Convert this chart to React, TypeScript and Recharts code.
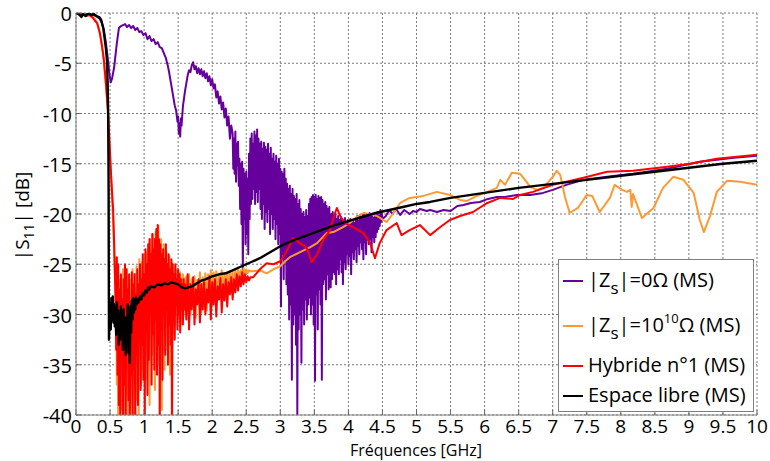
import React from 'react';
import { LineChart, Line, XAxis, YAxis, CartesianGrid, Legend } from 'recharts';

type Pt = [number, number];

const FONT = '"Open Sans", sans-serif';
const PURPLE = '#66009c';
const ORANGE = '#ff9933';
const RED = '#ff0000';
const BLACK = '#000000';

const xTicks = [0, 0.5, 1, 1.5, 2, 2.5, 3, 3.5, 4, 4.5, 5, 5.5, 6, 6.5, 7, 7.5, 8, 8.5, 9, 9.5, 10];
const yTicks = [-40, -35, -30, -25, -20, -15, -10, -5, 0];

// ---------- |Zs|=0 Ohm (MS) : purple ----------
const purpleHead: Pt[] = [
  [0, 0], [0.05, -0.1], [0.1, -0.2], [0.2, -0.1], [0.3, -0.3], [0.35, -0.6], [0.38, -1.0], [0.41, -1.7],
  [0.44, -3.0], [0.47, -4.7], [0.49, -6.0], [0.51, -6.9], [0.53, -6.5], [0.56, -5.4], [0.6, -3.0], [0.63, -1.5],
  [0.66, -1.3], [0.69, -1.2], [0.72, -1.1], [0.75, -1.4], [0.78, -1.2], [0.81, -1.5], [0.84, -1.3], [0.87, -1.7],
  [0.9, -1.5], [0.93, -1.9], [0.96, -1.8], [0.99, -2.2], [1.02, -2.0], [1.05, -2.6], [1.08, -2.3], [1.11, -2.8],
  [1.14, -2.6], [1.17, -3.1], [1.2, -2.9], [1.23, -3.4], [1.26, -3.5], [1.29, -4.0], [1.32, -4.5], [1.35, -5.3],
  [1.37, -6.0], [1.4, -7.2], [1.42, -8.0], [1.45, -9.2], [1.47, -9.7], [1.49, -10.8], [1.5, -10.3], [1.51, -12.0],
  [1.52, -11.0], [1.53, -12.3], [1.54, -10.5], [1.55, -11.2], [1.57, -9.3], [1.6, -7.8], [1.62, -7.0], [1.64, -6.2],
  [1.66, -5.7], [1.68, -5.9], [1.7, -5.2], [1.72, -4.9], [1.74, -5.6], [1.76, -5.3], [1.78, -6.0], [1.8, -5.5],
  [1.82, -6.1], [1.84, -5.6], [1.86, -6.3], [1.88, -5.8], [1.9, -6.5], [1.92, -6.0], [1.94, -6.8], [1.96, -6.3],
  [1.98, -7.2], [2.0, -6.6], [2.02, -7.5], [2.04, -7.1], [2.06, -8.4], [2.08, -7.8], [2.1, -9.0], [2.12, -8.3],
  [2.14, -9.6], [2.16, -8.9], [2.18, -10.4], [2.2, -9.5], [2.22, -11.2], [2.24, -10.3], [2.26, -12.5], [2.28, -11.2],
];
const purpleNoiseStart = 2.3;
const purpleNoiseStep = 0.01;
const purpleNoise = [
  -12.0, -15.5, -12.5, -16.0, -11.8, -16.8, -13.0, -15.2, -12.8, -17.2,
  -14.5, -19.5, -15.0, -21.0, -14.8, -25.8, -15.5, -20.5, -16.0, -23.0,
  -15.8, -22.0, -16.5, -24.0, -14.0, -20.5, -12.5, -19.0, -12.0, -18.5,
  -13.0, -17.5, -11.8, -19.0, -12.2, -17.8, -11.6, -18.8, -12.5, -17.5,
  -13.0, -19.5, -12.8, -20.5, -13.5, -19.0, -12.9, -21.5, -13.3, -19.8,
  -13.6, -20.8, -13.0, -19.5, -14.0, -22.0, -13.4, -20.0, -14.5, -21.5,
  -14.0, -20.5, -14.8, -22.5, -14.2, -21.0, -15.0, -23.0, -14.5, -22.0,
  -15.5, -29.2, -15.8, -24.0, -16.0, -26.5, -15.5, -24.5, -16.5, -27.0,
  -17.0, -28.0, -17.5, -30.5, -17.2, -29.0, -18.0, -36.5, -17.5, -31.0,
  -18.2, -30.0, -18.5, -33.0, -18.0, -40.0, -19.0, -31.5, -18.6, -30.0,
  -19.5, -34.8, -20.0, -29.5, -19.8, -31.0, -20.3, -28.5, -19.6, -30.5,
  -20.2, -29.0, -19.0, -28.3, -18.5, -30.0, -18.3, -29.0, -18.1, -31.0,
  -18.3, -36.6, -18.1, -28.0, -18.5, -31.5, -18.2, -27.5, -18.4, -29.0,
  -18.3, -36.5, -18.6, -27.0, -19.0, -26.5, -18.8, -28.5, -19.2, -26.0,
  -19.5, -27.5, -19.3, -25.5, -27.3, -20.0, -26.5, -19.8, -25.8, -20.2,
  -26.0, -20.0, -27.0, -20.5, -25.5, -20.2, -26.0, -20.6, -24.5, -20.3,
  -25.8, -20.5, -27.0, -20.8, -24.8, -20.4, -25.5, -21.0, -24.0, -20.6,
  -25.0, -20.8, -24.2, -20.5, -26.0, -21.0, -23.8, -20.6, -24.5, -20.9,
  -23.5, -20.5, -24.8, -20.2, -23.2, -20.7, -24.0, -20.1, -22.8, -20.5,
  -23.5, -20.0, -24.5, -19.9, -22.8, -20.3, -24.0, -20.0, -22.5, -20.2,
  -23.0, -19.9, -22.5, -20.2, -23.8, -20.0, -22.3, -20.4, -22.8, -19.9,
  -22.3, -20.0, -21.8, -19.8, -21.5, -20.2, -21.2, -19.6, -20.8, -19.9,
  -20.5,
];
const purpleTail: Pt[] = [
  [4.55, -20.2], [4.6, -19.6], [4.65, -20.0], [4.7, -19.5], [4.76, -20.1], [4.82, -19.6], [4.9, -20.0], [4.95, -19.7],
  [5.0, -19.8], [5.05, -19.5], [5.15, -19.7], [5.2, -19.6], [5.3, -19.8], [5.4, -19.6], [5.5, -19.7], [5.6, -19.2],
  [5.69, -19.1], [5.8, -18.9], [5.93, -18.8], [6.05, -18.5], [6.18, -18.3], [6.3, -18.3], [6.47, -18.1], [6.67, -18.1],
  [6.86, -17.9], [7.0, -17.6], [7.2, -17.1], [7.45, -16.6], [7.8, -16.3], [8.18, -16.0], [8.68, -15.5], [9.16, -14.8],
  [9.66, -14.4], [10, -14.2],
];

// ---------- |Zs|=1e10 Ohm (MS) : orange ----------
const orangeHead: Pt[] = [
  [0, 0], [0.1, -0.2], [0.2, -0.2], [0.28, -0.6], [0.32, -1.2], [0.36, -2.3], [0.4, -4.2], [0.44, -7.3],
  [0.47, -10.0], [0.5, -14.2], [0.53, -18.6], [0.55, -21.5], [0.57, -26.0],
];
const orangeNoiseAStart = 0.58;
const orangeNoiseAStep = 0.01;
const orangeNoiseA = [
  -29.0, -25.5, -37.0, -26.0, -41.0, -27.0, -34.0, -26.5, -39.5, -27.5,
  -32.0, -25.5, -40.5, -28.0, -35.0, -26.0, -38.0, -25.5, -42.0, -27.0,
  -33.5, -26.5, -39.0, -28.5, -34.5, -25.5, -40.0, -27.5, -33.0, -26.0,
  -38.5, -25.2, -35.0, -27.0, -41.0, -24.5, -34.0, -26.0, -37.0, -24.8,
  -35.5, -26.5, -33.0, -24.0, -36.5, -23.8, -32.0, -25.0, -35.0, -23.0,
  -39.0, -22.5, -31.5, -23.8, -34.0, -22.0, -30.5, -23.0, -37.5, -21.8,
  -32.0, -22.8, -35.0, -21.2, -30.0, -23.5, -34.5, -22.5, -39.5, -24.0,
  -31.5, -23.0, -35.5, -24.5, -30.5, -23.8, -33.5, -25.0, -29.5, -24.2,
  -36.0, -25.5, -30.8, -24.8, -32.0, -25.8, -29.8, -25.2, -31.0, -26.0,
  -29.0, -25.5, -30.5, -26.2, -29.2, -25.8, -31.0, -26.5, -28.8, -26.0,
  -30.2, -26.4, -28.6,
];
const orangeNoiseBStart = 1.62;
const orangeNoiseBStep = 0.02;
const orangeNoiseB = [
  -26.2, -29.5, -26.0, -30.0, -26.5, -28.8, -26.2, -30.3, -26.6, -28.5,
  -25.8, -29.8, -26.3, -28.2, -25.9, -29.6, -26.0, -28.0, -25.6, -29.2,
  -25.8, -28.0, -25.7, -28.5, -26.0, -27.6, -25.6, -28.2, -25.9, -27.4,
  -25.8, -27.5, -25.7, -27.0, -25.8, -26.8, -25.6, -26.7, -25.5, -26.5,
  -25.6, -26.3, -25.4, -26.0, -25.5, -25.9, -25.6, -25.7,
];
const orangeTail: Pt[] = [
  [2.6, -25.7], [2.7, -25.6], [2.8, -25.9], [2.9, -25.5], [3.0, -25.2], [3.07, -24.7], [3.14, -24.3], [3.29, -23.8],
  [3.44, -23.3], [3.54, -22.9], [3.68, -21.9], [3.78, -21.8], [3.92, -21.3], [4.02, -20.9], [4.12, -20.3], [4.22, -19.9],
  [4.32, -20.0], [4.42, -20.2], [4.56, -20.8], [4.66, -19.9], [4.76, -18.9], [4.9, -18.4], [5.1, -18.2], [5.3, -17.8],
  [5.49, -18.1], [5.64, -18.6], [5.74, -18.7], [5.89, -18.2], [6.04, -17.8], [6.18, -17.4], [6.23, -16.6], [6.3, -17.1],
  [6.4, -15.9], [6.52, -16.0], [6.57, -16.4], [6.67, -17.3], [6.77, -17.6], [6.86, -17.4], [7.0, -16.3], [7.06, -15.7],
  [7.11, -16.1], [7.18, -18.3], [7.25, -19.9], [7.37, -19.4], [7.5, -18.1], [7.58, -18.2], [7.69, -19.8], [7.84, -18.4],
  [7.91, -17.1], [8.02, -17.6], [8.09, -17.8], [8.14, -17.6], [8.16, -19.3], [8.18, -18.0], [8.2, -18.4], [8.31, -20.4],
  [8.48, -19.4], [8.62, -17.4], [8.77, -16.3], [8.92, -16.6], [9.07, -17.9], [9.16, -20.6], [9.22, -21.8], [9.31, -20.2],
  [9.41, -17.8], [9.56, -16.7], [9.75, -16.8], [10, -17.1],
];

// ---------- Hybride n°1 (MS) : red ----------
const redHead: Pt[] = [
  [0, 0], [0.05, -0.2], [0.1, -0.1], [0.15, -0.3], [0.2, -0.2], [0.25, -0.5], [0.28, -0.8], [0.31, -1.0],
  [0.35, -2.0], [0.38, -3.2], [0.41, -4.7], [0.44, -7.0], [0.47, -9.7], [0.49, -12.5], [0.51, -15.5], [0.53, -17.9],
  [0.545, -19.5], [0.56, -22.9], [0.57, -25.5],
];
const redNoiseAStart = 0.58;
const redNoiseAStep = 0.01;
const redNoiseA = [
  -28.0, -33.5, -24.3, -36.0, -25.0, -39.0, -27.5, -42.0, -26.0, -34.0,
  -28.5, -41.0, -26.5, -37.0, -25.0, -42.0, -25.5, -33.0, -27.5, -38.5,
  -26.0, -42.0, -29.0, -36.0, -25.8, -41.0, -27.0, -35.5, -26.0, -42.0,
  -28.0, -34.0, -25.5, -39.0, -27.0, -32.5, -25.0, -37.5, -26.5, -33.0,
  -24.0, -36.5, -26.0, -41.0, -23.5, -31.0, -25.0, -38.0, -23.0, -34.5,
  -22.5, -30.0, -24.0, -37.0, -22.0, -32.0, -23.5, -35.5, -22.5, -30.5,
  -21.5, -36.0, -21.1, -33.0, -22.5, -42.0, -23.0, -31.5, -24.0, -36.5,
  -23.5, -30.0, -24.5, -34.0, -23.0, -29.5, -25.0, -35.0, -24.0, -31.0,
  -25.5, -33.0, -24.5, -42.0, -25.0, -30.5, -26.0, -32.5, -25.0, -29.0,
  -26.5, -31.5, -25.5, -30.0, -26.0, -31.8, -26.5, -29.5, -27.0, -31.0,
  -26.5, -29.5, -27.0,
];
const redNoiseBStart = 1.62;
const redNoiseBStep = 0.02;
const redNoiseB = [
  -30.5, -26.0, -31.5, -27.0, -29.5, -26.3, -31.0, -27.5, -29.0, -26.5,
  -30.8, -27.0, -29.5, -26.8, -30.0, -27.5, -28.8, -26.2, -30.5, -26.8,
  -29.0, -26.5, -30.2, -27.2, -28.5, -26.4, -29.8, -27.0, -28.6, -26.5,
  -29.2, -26.8, -28.0, -26.3, -28.5, -26.5, -27.8, -26.0, -27.6, -26.2,
  -27.2, -25.8, -27.0, -26.0, -26.8, -26.2, -26.6, -26.3,
];
const redTail: Pt[] = [
  [2.6, -26.3], [2.7, -25.5], [2.8, -24.9], [2.9, -25.0], [3.0, -24.7], [3.05, -24.2], [3.1, -23.6], [3.19, -22.4],
  [3.29, -22.9], [3.39, -23.4], [3.46, -24.8], [3.54, -24.0], [3.63, -22.6], [3.73, -21.6], [3.8, -20.0], [3.83, -19.4],
  [3.88, -20.2], [3.95, -20.9], [4.07, -21.3], [4.22, -21.9], [4.32, -22.9], [4.39, -24.4], [4.46, -22.9], [4.56, -21.6],
  [4.71, -20.9], [4.78, -22.1], [4.9, -21.6], [5.05, -21.1], [5.2, -22.1], [5.35, -21.3], [5.49, -20.6], [5.64, -20.2],
  [5.83, -19.8], [6.04, -18.9], [6.23, -18.4], [6.42, -18.5], [6.52, -18.1], [6.71, -17.8], [7.0, -17.1], [7.45, -16.4],
  [7.8, -15.8], [8.18, -15.7], [8.68, -15.3], [9.02, -15.0], [9.41, -14.5], [10, -14.1],
];

// ---------- Espace libre (MS) : black ----------
const blackHead: Pt[] = [
  [0, 0], [0.04, -0.1], [0.08, -0.4], [0.1, -0.1], [0.14, -0.3], [0.18, 0], [0.22, -0.2], [0.26, -0.1],
  [0.3, -0.3], [0.34, -0.4], [0.37, -0.7], [0.4, -1.5], [0.42, -2.5], [0.44, -3.6], [0.455, -4.8], [0.465, -7.0],
  [0.472, -10.0], [0.476, -14.0], [0.479, -18.0], [0.481, -24.6], [0.484, -32.5], [0.49, -31.0],
];
const blackNoiseStart = 0.5;
const blackNoiseStep = 0.01;
const blackNoise = [
  -29.9, -31.5, -28.4, -30.5, -28.2, -30.8, -29.0, -31.2, -29.5, -32.0,
  -28.8, -31.0, -29.6, -33.0, -30.0, -32.5, -29.2, -31.5, -30.2, -33.5,
  -29.5, -32.0, -30.3, -34.0, -30.5, -32.6, -29.0, -33.8, -30.0, -34.8,
  -29.2, -31.8, -28.6, -30.5, -28.4, -29.8, -28.6, -29.5, -28.3, -29.0,
  -28.5,
];
const blackTail: Pt[] = [
  [0.92, -28.8], [0.94, -28.2], [0.96, -28.5], [0.98, -27.9], [1.0, -28.1], [1.02, -27.6], [1.04, -27.8], [1.06, -27.3],
  [1.08, -27.5], [1.1, -27.2], [1.15, -27.3], [1.2, -27.0], [1.25, -27.1], [1.3, -26.9], [1.35, -27.0], [1.4, -26.8],
  [1.45, -26.9], [1.5, -27.0], [1.55, -27.3], [1.6, -27.4], [1.65, -27.3], [1.7, -27.2], [1.75, -27.0], [1.8, -26.8],
  [1.85, -26.6], [1.9, -26.5], [2.0, -26.2], [2.1, -26.0], [2.2, -25.9], [2.3, -25.6], [2.4, -25.3], [2.5, -25.0],
  [2.6, -24.7], [2.7, -24.4], [2.8, -24.0], [2.9, -23.6], [3.0, -23.2], [3.2, -22.6], [3.4, -22.1], [3.6, -21.6],
  [3.8, -21.1], [4.0, -20.7], [4.2, -20.3], [4.4, -19.9], [4.6, -19.6], [4.8, -19.3], [5.0, -19.0], [5.2, -18.8],
  [5.5, -18.4], [6.0, -17.9], [6.5, -17.4], [7.0, -17.0], [7.5, -16.6], [8.0, -16.2], [8.5, -15.8], [9.0, -15.4],
  [9.5, -15.0], [10, -14.7],
];

function grid(start: number, step: number, values: number[]): Pt[] {
  return values.map((v, i) => [Math.round((start + i * step) * 10000) / 10000, v] as Pt);
}
function rows(parts: Pt[][]) {
  return parts.flat().map(([f, s]) => ({ f, s }));
}

const purpleData = rows([purpleHead, grid(purpleNoiseStart, purpleNoiseStep, purpleNoise), purpleTail]);
const orangeData = rows([
  orangeHead,
  grid(orangeNoiseAStart, orangeNoiseAStep, orangeNoiseA),
  grid(orangeNoiseBStart, orangeNoiseBStep, orangeNoiseB),
  orangeTail,
]);
const redData = rows([
  redHead,
  grid(redNoiseAStart, redNoiseAStep, redNoiseA),
  grid(redNoiseBStart, redNoiseBStep, redNoiseB),
  redTail,
]);
const blackData = rows([blackHead, grid(blackNoiseStart, blackNoiseStep, blackNoise), blackTail]);

const subStyle: React.CSSProperties = { fontSize: 17, verticalAlign: '-7px', lineHeight: 0 };
const supStyle: React.CSSProperties = { fontSize: 13, verticalAlign: '9px', lineHeight: 0 };

const legendItems = [
  { color: PURPLE, label: <>|Z<span style={subStyle}>s</span>|=0Ω (MS)</> },
  { color: ORANGE, label: <>|Z<span style={subStyle}>s</span>|=10<span style={supStyle}>10</span>Ω (MS)</> },
  { color: RED, label: <>Hybride n°1 (MS)</> },
  { color: BLACK, label: <>Espace libre (MS)</> },
];
const legendRowTops = [10, 55, 95, 125];

function LegendBox() {
  return (
    <div
      style={{
        width: 196,
        height: 153,
        boxSizing: 'border-box',
        border: '1px solid #7f7f7f',
        background: '#fff',
        position: 'relative',
        fontFamily: FONT,
        fontSize: 20,
        color: '#000',
      }}
    >
      {legendItems.map((it, i) => (
        <div
          key={i}
          style={{ position: 'absolute', left: 4, top: legendRowTops[i], height: 20, lineHeight: '20px', whiteSpace: 'nowrap' }}
        >
          <span
            style={{
              display: 'inline-block',
              width: 20,
              height: 2,
              background: it.color,
              verticalAlign: 'middle',
              marginRight: 5,
              position: 'relative',
              top: -1,
            }}
          />
          {it.label}
        </div>
      ))}
    </div>
  );
}

function YLabel() {
  return (
    <text transform="translate(29, 216) rotate(-90)" textAnchor="middle" fontSize={19} fontFamily={FONT} fill="#000">
      |S<tspan dy={5} fontSize={14}>11</tspan>
      <tspan dy={-5}>| [dB]</tspan>
    </text>
  );
}

function XLabel() {
  return (
    <text x={416} y={456} textAnchor="middle" fontSize={16} fontFamily={FONT} fill="#000">
      Fréquences [GHz]
    </text>
  );
}

function XTick(props: any) {
  const { x, y, payload } = props;
  return (
    <text x={x} y={y} textAnchor="middle" fontSize={19} fontFamily={FONT} fill="#000">
      {String(payload.value)}
    </text>
  );
}

function YTick(props: any) {
  const { x, y, payload } = props;
  return (
    <text x={x} y={y} dy={8} textAnchor="end" fontSize={20} fontFamily={FONT} fill="#000">
      {String(payload.value)}
    </text>
  );
}

export default function App() {
  return (
    <div style={{ position: 'absolute', left: 0, top: 0, width: 770, height: 461, background: '#fff' }}>
      <LineChart width={770} height={461} margin={{ top: 13, right: 13, bottom: 0, left: 0 }}>
        <CartesianGrid stroke="#7a7a7a" strokeDasharray="2 2" />
        <XAxis
          dataKey="f"
          type="number"
          domain={[0, 10]}
          ticks={xTicks}
          interval={0}
          allowDataOverflow
          height={46}
          tickSize={-5}
          tickMargin={23}
          tick={<XTick />}
          tickLine={{ stroke: '#666' }}
          axisLine={{ stroke: '#808080' }}
          label={<XLabel />}
        />
        <XAxis
          xAxisId="top"
          orientation="top"
          dataKey="f"
          type="number"
          domain={[0, 10]}
          ticks={xTicks}
          interval={0}
          height={0}
          tick={false}
          tickSize={-5}
          tickLine={{ stroke: '#666' }}
          axisLine={{ stroke: '#808080' }}
        />
        <YAxis
          type="number"
          domain={[-40, 0]}
          ticks={yTicks}
          interval={0}
          allowDataOverflow
          width={76}
          tickSize={-5}
          tickMargin={9}
          tick={<YTick />}
          tickLine={{ stroke: '#666' }}
          axisLine={{ stroke: '#808080' }}
          label={<YLabel />}
        />
        <YAxis
          yAxisId="right"
          orientation="right"
          type="number"
          domain={[-40, 0]}
          ticks={yTicks}
          interval={0}
          width={0}
          tick={false}
          tickSize={-5}
          tickLine={{ stroke: '#666' }}
          axisLine={{ stroke: '#808080' }}
        />
        <Line data={purpleData} dataKey="s" type="linear" stroke={PURPLE} strokeWidth={2} dot={false} isAnimationActive={false} strokeLinejoin="round" />
        <Line data={orangeData} dataKey="s" type="linear" stroke={ORANGE} strokeWidth={2} dot={false} isAnimationActive={false} strokeLinejoin="round" />
        <Line data={redData} dataKey="s" type="linear" stroke={RED} strokeWidth={2} dot={false} isAnimationActive={false} strokeLinejoin="round" />
        <Line data={blackData} dataKey="s" type="linear" stroke={BLACK} strokeWidth={2.4} dot={false} isAnimationActive={false} strokeLinejoin="round" />
        <Legend
          layout="vertical"
          align="center"
          verticalAlign="middle"
          content={() => <LegendBox />}
          wrapperStyle={{ left: 558, top: 259, width: 196, height: 153 }}
        />
      </LineChart>
    </div>
  );
}
